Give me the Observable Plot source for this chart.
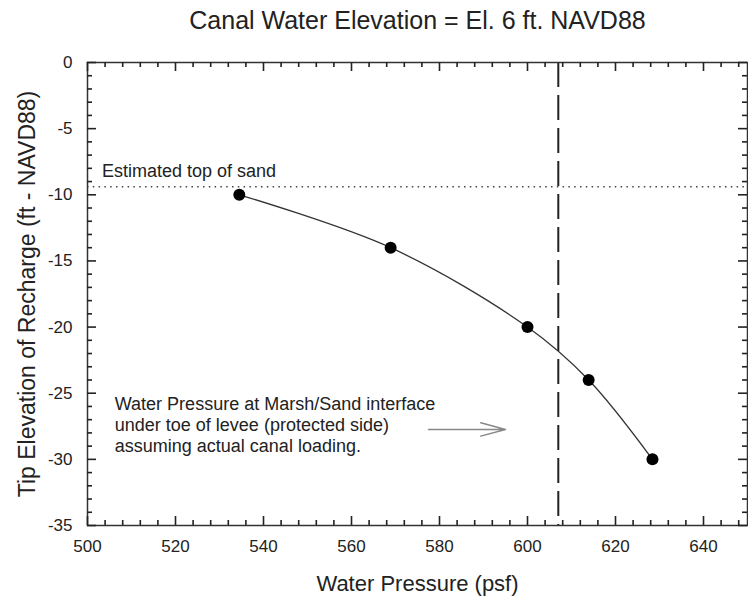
<!DOCTYPE html>
<html>
<head>
<meta charset="utf-8">
<script src="https://cdn.jsdelivr.net/npm/d3@7"></script>
<script src="https://cdn.jsdelivr.net/npm/@observablehq/plot@0.6"></script>
<style>
  body { margin: 0; background: #fff; }
  svg { display: block; }
</style>
</head>
<body>
<div id="chart"></div>
<script>
// ---- data ----
const waterPressure = [534.5, 568.9, 600, 613.9, 628.4];
const tipElevation = [-10, -14, -20, -24, -30];
const topOfSand = -9.4;
const designPressure = 607;
const xMajorTicks = [500, 520, 540, 560, 580, 600, 620, 640];
const yMajorTicks = [0, -5, -10, -15, -20, -25, -30, -35];
const xMinorTicks = d3.range(504, 650, 4).filter(v => v % 20 !== 0);
const yMinorTicks = d3.range(-34, 0, 1).filter(v => v % 5 !== 0);
const titleText = "Canal Water Elevation = El. 6 ft. NAVD88";
const xTitle = "Water Pressure (psf)";
const yTitle = "Tip Elevation of Recharge (ft - NAVD88)";
const sandLabel = "Estimated top of sand";
const noteText = "Water Pressure at Marsh/Sand interface\nunder toe of levee (protected side)\nassuming actual canal loading.";

const points = waterPressure.map((p, i) => ({pressure: p, elevation: tipElevation[i]}));

const font = "'Liberation Sans', Arial, Helvetica, sans-serif";
const ink = "#222";
const axisStroke = "#333";

// plot frame geometry
const W = 748, H = 598, mL = 87, mR = 1, mT = 62, mB = 73;
const xDomain = [500, 650], yDomain = [-35, 0];
const frameW = W - mL - mR, frameH = H - mT - mB;
const kx = frameW / (xDomain[1] - xDomain[0]);   // px per psf
const ky = frameH / (yDomain[1] - yDomain[0]);   // px per ft
const majorLen = 9, minorLen = 5;
const tickStyle = {stroke: "#222", strokeWidth: 1.6};

// inward tick segments expressed through the scales
const xTickMarks = (ticks, len) => [
  Plot.ruleX(ticks, {x: d => d, y1: yDomain[0], y2: yDomain[0] + len / ky, ...tickStyle}),
  Plot.ruleX(ticks, {x: d => d, y1: yDomain[1], y2: yDomain[1] - len / ky, ...tickStyle})
];
const yTickMarks = (ticks, len) => [
  Plot.ruleY(ticks, {y: d => d, x1: xDomain[0], x2: xDomain[0] + len / kx, ...tickStyle}),
  Plot.ruleY(ticks, {y: d => d, x1: xDomain[1], x2: xDomain[1] - len / kx, ...tickStyle})
];

const chart = Plot.plot({
  width: W,
  height: H,
  marginLeft: mL,
  marginRight: mR,
  marginTop: mT,
  marginBottom: mB,
  style: {fontFamily: font, color: ink, background: "#fff", overflow: "visible"},
  x: {domain: xDomain},
  y: {domain: yDomain},
  marks: [
    // dotted "top of sand" line
    Plot.ruleY([topOfSand], {stroke: "#444", strokeWidth: 1.5, strokeDasharray: "1.5,4.3"}),
    // dashed vertical line
    Plot.ruleX([designPressure], {y1: 0, y2: -35, stroke: "#222", strokeWidth: 2, strokeDasharray: "25,8"}),
    // curve and points
    Plot.line(points, {x: "pressure", y: "elevation", curve: "catmull-rom", stroke: "#333", strokeWidth: 1.3}),
    Plot.dot(points, {x: "pressure", y: "elevation", r: 6, fill: "#000", stroke: "none"}),
    // arrow
    Plot.arrow([0], {x1: [577.5], x2: [595], y1: [-27.74], y2: [-27.74], stroke: "#888", strokeWidth: 1.5, headLength: 30, headAngle: 30}),
    // annotations
    Plot.text([sandLabel], {x: [503.3], y: [-8.69], text: d => d, textAnchor: "start", lineAnchor: "bottom", fontSize: 18, fill: ink}),
    Plot.text([noteText], {x: [506.2], y: [-29.46], text: d => d, textAnchor: "start", lineAnchor: "bottom", lineHeight: 1.16, fontSize: 18, fill: ink}),
    // tick labels
    Plot.axisX(xMajorTicks, {anchor: "bottom", tickSize: 0, tickPadding: 14, fontSize: 17, label: null, tickFormat: d => String(d), fill: ink}),
    Plot.axisY(yMajorTicks, {anchor: "left", tickSize: 0, tickPadding: 15, fontSize: 17, label: null, tickFormat: d => String(d), fill: ink}),
    // frame
    Plot.frame({stroke: axisStroke, strokeWidth: 1.5}),
    // inward ticks on all four sides
    ...xTickMarks(xMajorTicks, majorLen),
    ...xTickMarks(xMinorTicks, minorLen),
    ...yTickMarks(yMajorTicks, majorLen),
    ...yTickMarks(yMinorTicks, minorLen),
    // titles
    Plot.text([titleText], {frameAnchor: "top", dy: -34, textAnchor: "middle", lineAnchor: "bottom", fontSize: 25, fill: ink}),
    Plot.text([xTitle], {frameAnchor: "bottom", dy: 65, textAnchor: "middle", lineAnchor: "bottom", fontSize: 22, fill: ink}),
    Plot.text([yTitle], {frameAnchor: "left", dx: -60, rotate: -90, textAnchor: "middle", lineAnchor: "middle", fontSize: 23, fill: ink})
  ]
});

document.getElementById("chart").appendChild(chart);
</script>
</body>
</html>
